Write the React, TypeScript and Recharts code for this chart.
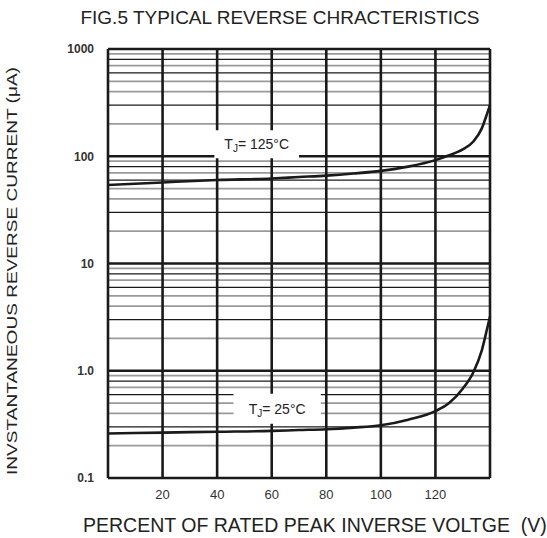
import { LineChart, Line, XAxis, YAxis, CartesianGrid, ReferenceArea } from 'recharts';

const voltPct = [0, 20, 40, 60, 70, 80, 90, 100, 110, 120, 125, 130, 134, 137, 139, 140];
const current125 = [54, 57, 60, 62, 64, 66, 69, 73, 80, 92, 102, 116, 138, 182, 252, 300];
const current25 = [0.26, 0.265, 0.27, 0.275, 0.28, 0.285, 0.295, 0.31, 0.35, 0.42, 0.5, 0.68, 0.98, 1.55, 2.5, 3.2];

const xTicks = [0, 20, 40, 60, 80, 100, 120, 140];
const xTickLabels = ['', '20', '40', '60', '80', '100', '120', ''];
const decades = [0.1, 1, 10, 100, 1000];
const decadeLabels = ['0.1', '1.0', '10', '100', '1000'];
const minorMult = [2, 3, 4, 5, 6, 7, 8, 9];
const minorDark = [false, true, false, false, true, false, true, false];

const data = voltPct.map((v, i) => ({ v, t125: current125[i], t25: current25[i] }));

// every horizontal grid line: decades plus 2..9 of each decade
const yGrid: { y: number; kind: 'major' | 'dark' | 'light' }[] = [];
decades.forEach((d, di) => {
  yGrid.push({ y: d, kind: 'major' });
  if (di < decades.length - 1)
    minorMult.forEach((m, i) =>
      yGrid.push({ y: +(d * m).toPrecision(3), kind: minorDark[i] ? 'dark' : 'light' })
    );
});
const yTicks = yGrid.map((g) => g.y);

const FONT = '"Liberation Sans", Arial, sans-serif';

const hLine = (props: any) => {
  const g = yGrid[props.index];
  const kind = g ? g.kind : 'light';
  const stroke = kind === 'light' ? '#9a9a9a' : '#1a1a1a';
  const w = kind === 'major' ? 2.6 : kind === 'dark' ? 1.3 : 1.8;
  return (
    <line
      key={'h' + props.index}
      x1={props.x1}
      x2={props.x2}
      y1={props.y1}
      y2={props.y2}
      stroke={stroke}
      strokeWidth={w}
    />
  );
};

const vLine = (props: any) => (
  <line
    key={'v' + props.index}
    x1={props.x1}
    x2={props.x2}
    y1={props.y1}
    y2={props.y2}
    stroke="#1a1a1a"
    strokeWidth={2.6}
  />
);

const tjLabel = (temp: string) => (props: any) => {
  const { x, y, width, height } = props.viewBox;
  return (
    <text
      x={x + width / 2}
      y={y + height / 2 + 5}
      textAnchor="middle"
      fontFamily={FONT}
      fontSize={14}
      fill="#222"
    >
      T<tspan fontSize={10} dy={3}>J</tspan>
      <tspan dy={-3}>= {temp}°C</tspan>
    </text>
  );
};

export default function App() {
  return (
    <div style={{ position: 'absolute', left: 0, top: 0, width: 547, height: 538, background: '#fff' }}>
      <LineChart
        width={547}
        height={538}
        data={data}
        margin={{ top: 49, right: 57, left: 48, bottom: 30 }}
      >
        <CartesianGrid horizontal={hLine} vertical={vLine} />
        <XAxis
          dataKey="v"
          type="number"
          domain={[0, 140]}
          ticks={xTicks}
          tickFormatter={(v: number) => xTickLabels[xTicks.indexOf(v)] ?? ''}
          axisLine={false}
          tickLine={false}
          tickMargin={6}
          height={30}
          tick={{ fill: '#333', fontSize: 13, fontFamily: FONT }}
        />
        <YAxis
          type="number"
          scale="log"
          domain={[0.1, 1000]}
          ticks={yTicks}
          interval={0}
          tickFormatter={(v: number) => {
            const i = decades.indexOf(v);
            return i >= 0 ? decadeLabels[i] : '';
          }}
          allowDataOverflow
          axisLine={false}
          tickLine={false}
          tickMargin={8}
          width={60}
          tick={{ fill: '#333', fontSize: 12, fontFamily: FONT, fontWeight: 'bold' }}
        />
        <ReferenceArea
          x1={39}
          x2={70}
          y1={96}
          y2={175}
          stroke="none"
          fill="#fff"
          fillOpacity={1}
          label={tjLabel('125')}
        />
        <ReferenceArea
          x1={46}
          x2={78}
          y1={0.32}
          y2={0.61}
          stroke="none"
          fill="#fff"
          fillOpacity={1}
          label={tjLabel('25')}
        />
        <Line
          type="monotone"
          dataKey="t125"
          stroke="#1a1a1a"
          strokeWidth={2.6}
          dot={false}
          isAnimationActive={false}
        />
        <Line
          type="monotone"
          dataKey="t25"
          stroke="#1a1a1a"
          strokeWidth={2.6}
          dot={false}
          isAnimationActive={false}
        />
      </LineChart>
      <div
        style={{
          position: 'absolute',
          left: 0,
          width: 547,
          top: 7,
          textAlign: 'center',
          paddingLeft: 13,
          boxSizing: 'border-box',
          fontFamily: FONT,
          fontSize: 19,
          color: '#222',
        }}
      >
        FIG.5 TYPICAL REVERSE CHRACTERISTICS
      </div>
      <div
        style={{
          position: 'absolute',
          left: 83,
          top: 514,
          fontFamily: FONT,
          fontSize: 19.5,
          color: '#222',
          whiteSpace: 'pre',
        }}
      >
        PERCENT OF RATED PEAK INVERSE VOLTGE  (V)
      </div>
      <div
        style={{
          position: 'absolute',
          left: 11,
          top: 271,
          transform: 'translate(-50%, -50%) rotate(-90deg) scaleX(1.27)',
          fontFamily: FONT,
          fontSize: 15,
          color: '#222',
          whiteSpace: 'nowrap',
        }}
      >
        INVSTANTANEOUS REVERSE CURRENT (μA)
      </div>
    </div>
  );
}
